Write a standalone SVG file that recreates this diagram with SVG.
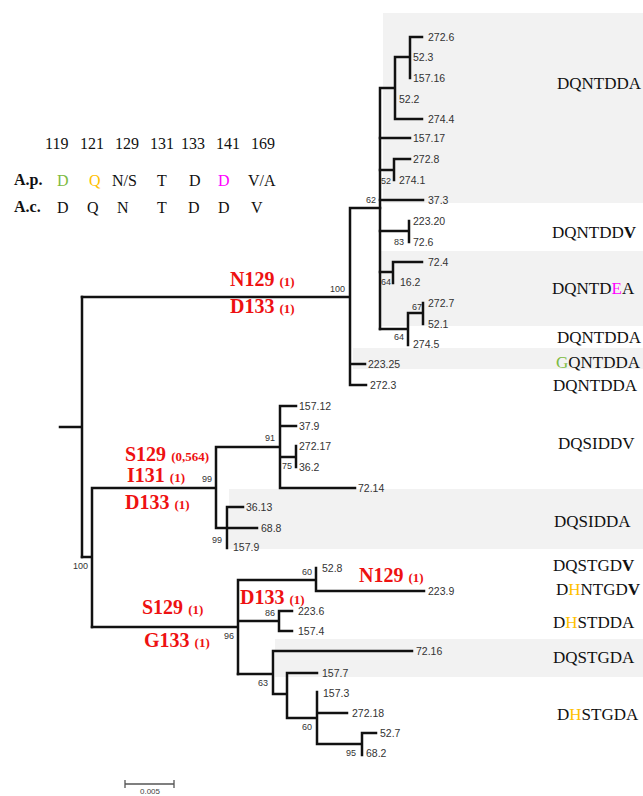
<svg xmlns="http://www.w3.org/2000/svg" width="643" height="796" viewBox="0 0 643 796">
<style>
.band{fill:#f2f2f2}
.br{fill:none;stroke:#111;stroke-width:2.5;stroke-linecap:square}
.tip{font-family:"Liberation Sans",Arial,sans-serif;font-size:10.5px;fill:#333}
.bs{font-family:"Liberation Sans",Arial,sans-serif;font-size:9px;fill:#333}
.seq{font-family:"Liberation Serif","Times New Roman",serif;font-size:17px;fill:#111}
.leg{font-family:"Liberation Serif","Times New Roman",serif;font-size:16px;fill:#111}
.legb{font-family:"Liberation Serif","Times New Roman",serif;font-size:16px;font-weight:bold;fill:#111}
.mut{font-family:"Liberation Serif","Times New Roman",serif;font-size:20px;font-weight:bold;fill:#EE1111}
.mut tspan{font-size:13px}
.g{fill:#7DBB42}
.o{fill:#FFC000}
.m{fill:#FF00FF}
.vb{font-weight:bold}
.scale{fill:none;stroke:#555;stroke-width:1.3}
.scalet{font-family:"Liberation Sans",Arial,sans-serif;font-size:8px;fill:#444}
</style>
<rect width="643" height="796" fill="#fff"/>
<g id="bands">
<rect class="band" x="383" y="13" width="260" height="190"/>
<rect class="band" x="380" y="251" width="263" height="75"/>
<rect class="band" x="353" y="348" width="290" height="21"/>
<rect class="band" x="229" y="489" width="414" height="60"/>
<rect class="band" x="275" y="639" width="368" height="38"/>
</g>
<g id="connectors" class="br">
<path d="M60 427H82M82 297V557"/>
<path d="M82 297H350M350 208V385M350 208H380M350 364H365M350 385H366"/>
<path d="M380 88V329M380 88H395M395 57V119M395 57H410M410 37V78M410 37H422M395 119H422"/>
<path d="M380 138H410M380 170H394M394 159V180M394 159H410M380 200H423"/>
<path d="M380 231H409M409 221V242M380 272H393M393 262V283M393 262H422"/>
<path d="M380 329H408M408 313V345M408 313H423M423 303V324"/>
<path d="M82 557H92M92 488V627M92 488H216M216 447V528M216 447H280M280 406V488M280 406H296M280 426H296M280 457H296M296 446V467M280 488H355M216 528H257M227 507V548M227 507H243"/>
<path d="M92 627H238M238 580V674M238 580H316M316 568V591M316 591H424M238 621H279M279 611V631M279 611H292M279 631H292"/>
<path d="M238 674H273M273 651V694M273 651H412M273 694H287M287 673V718M287 673H317M287 718H317M317 692V744M317 713H347M317 744H362M362 733V755M362 733H376"/>
</g>
<g id="tips">
<g id="t272_6"><text class="tip" x="428" y="41">272.6</text></g>
<g id="t52_3"><text class="tip" x="413" y="61">52.3</text></g>
<g id="t157_16"><text class="tip" x="413" y="82">157.16</text></g>
<g id="t52_2"><text class="tip" x="399" y="103">52.2</text></g>
<g id="t274_4"><text class="tip" x="428" y="123">274.4</text></g>
<g id="t157_17"><text class="tip" x="413" y="142">157.17</text></g>
<g id="t272_8"><text class="tip" x="413" y="163">272.8</text></g>
<g id="t274_1"><text class="tip" x="399" y="184">274.1</text></g>
<g id="t37_3"><text class="tip" x="428" y="204">37.3</text></g>
<g id="t223_20"><text class="tip" x="413" y="225">223.20</text></g>
<g id="t72_6"><text class="tip" x="413" y="246">72.6</text></g>
<g id="t72_4"><text class="tip" x="428" y="266">72.4</text></g>
<g id="t16_2"><text class="tip" x="400" y="286">16.2</text></g>
<g id="t272_7"><text class="tip" x="428" y="307">272.7</text></g>
<g id="t52_1"><text class="tip" x="428" y="328">52.1</text></g>
<g id="t274_5"><text class="tip" x="413" y="348">274.5</text></g>
<g id="t223_25"><text class="tip" x="368" y="368">223.25</text></g>
<g id="t272_3"><text class="tip" x="370" y="389">272.3</text></g>
<g id="t157_12"><text class="tip" x="299" y="410">157.12</text></g>
<g id="t37_9"><text class="tip" x="299" y="430">37.9</text></g>
<g id="t272_17"><text class="tip" x="299" y="450">272.17</text></g>
<g id="t36_2"><text class="tip" x="299" y="471">36.2</text></g>
<g id="t72_14"><text class="tip" x="358" y="492">72.14</text></g>
<g id="t36_13"><text class="tip" x="246" y="511">36.13</text></g>
<g id="t68_8"><text class="tip" x="261" y="532">68.8</text></g>
<g id="t157_9"><text class="tip" x="233" y="551">157.9</text></g>
<g id="t52_8"><text class="tip" x="322" y="572">52.8</text></g>
<g id="t223_9"><text class="tip" x="428" y="595">223.9</text></g>
<g id="t223_6"><text class="tip" x="298" y="615">223.6</text></g>
<g id="t157_4"><text class="tip" x="298" y="635">157.4</text></g>
<g id="t72_16"><text class="tip" x="416" y="655">72.16</text></g>
<g id="t157_7"><text class="tip" x="322" y="677">157.7</text></g>
<g id="t157_3"><text class="tip" x="323" y="697">157.3</text></g>
<g id="t272_18"><text class="tip" x="352" y="717">272.18</text></g>
<g id="t52_7"><text class="tip" x="380" y="737">52.7</text></g>
<g id="t68_2"><text class="tip" x="366" y="757">68.2</text></g>
</g>
<g id="support">
<g id="n52"><text class="bs" x="381" y="184">52</text></g>
<g id="n62"><text class="bs" x="366" y="203">62</text></g>
<g id="n100a"><text class="bs" x="330" y="292">100</text></g>
<g id="n83"><text class="bs" x="394" y="245">83</text></g>
<g id="n64a"><text class="bs" x="381" y="285">64</text></g>
<g id="n67"><text class="bs" x="412" y="310">67</text></g>
<g id="n64b"><text class="bs" x="394" y="340">64</text></g>
<g id="n91"><text class="bs" x="265" y="441">91</text></g>
<g id="n75"><text class="bs" x="282" y="469">75</text></g>
<g id="n99a"><text class="bs" x="202" y="482">99</text></g>
<g id="n99b"><text class="bs" x="212" y="543">99</text></g>
<g id="n100b"><text class="bs" x="73" y="569">100</text></g>
<g id="n60a"><text class="bs" x="302" y="575">60</text></g>
<g id="n86"><text class="bs" x="265" y="616">86</text></g>
<g id="n96"><text class="bs" x="224" y="639">96</text></g>
<g id="n63"><text class="bs" x="258" y="686">63</text></g>
<g id="n60b"><text class="bs" x="302" y="730">60</text></g>
<g id="n95"><text class="bs" x="346" y="756">95</text></g>
</g>
<g id="sequences">
<g id="s1"><text class="seq" x="557" y="89">DQNTDDA</text></g>
<g id="s2"><text class="seq" x="552" y="238">DQNTDD<tspan class="vb">V</tspan></text></g>
<g id="s3"><text class="seq" x="552" y="294">DQNTD<tspan class="m">E</tspan>A</text></g>
<g id="s4"><text class="seq" x="557" y="343">DQNTDDA</text></g>
<g id="s5"><text class="seq" x="556" y="368"><tspan class="g">G</tspan>QNTDDA</text></g>
<g id="s6"><text class="seq" x="553" y="391">DQNTDDA</text></g>
<g id="s7"><text class="seq" x="558" y="449">DQSIDDV</text></g>
<g id="s8"><text class="seq" x="554" y="527">DQSIDDA</text></g>
<g id="s9"><text class="seq" x="553" y="571">DQSTGD<tspan class="vb">V</tspan></text></g>
<g id="s10"><text class="seq" x="556" y="595">D<tspan class="o">H</tspan>NTGD<tspan class="vb">V</tspan></text></g>
<g id="s11"><text class="seq" x="553" y="628">D<tspan class="o">H</tspan>STDDA</text></g>
<g id="s12"><text class="seq" x="553" y="663">DQSTGDA</text></g>
<g id="s13"><text class="seq" x="557" y="720">D<tspan class="o">H</tspan>STGDA</text></g>
</g>
<g id="mutations">
<g id="m1"><text class="mut" x="230" y="286">N129 <tspan>(1)</tspan></text></g>
<g id="m2"><text class="mut" x="230" y="313">D133 <tspan>(1)</tspan></text></g>
<g id="m3"><text class="mut" x="125" y="461">S129 <tspan>(0,564)</tspan></text></g>
<g id="m4"><text class="mut" x="127" y="482">I131 <tspan>(1)</tspan></text></g>
<g id="m5"><text class="mut" x="125" y="509">D133 <tspan>(1)</tspan></text></g>
<g id="m6"><text class="mut" x="142" y="614">S129 <tspan>(1)</tspan></text></g>
<g id="m7"><text class="mut" x="144" y="647">G133 <tspan>(1)</tspan></text></g>
<g id="m8"><text class="mut" x="359" y="582">N129 <tspan>(1)</tspan></text></g>
<g id="m9"><text class="mut" x="240" y="604">D133 <tspan>(1)</tspan></text></g>
</g>
<g id="legend">
<text class="leg" x="45" y="149">119</text>
<text class="leg" x="80" y="149">121</text>
<text class="leg" x="115" y="149">129</text>
<text class="leg" x="150" y="149">131</text>
<text class="leg" x="181" y="149">133</text>
<text class="leg" x="216" y="149">141</text>
<text class="leg" x="251" y="149">169</text>
<text class="legb" x="14" y="185">A.p.</text>
<text class="leg g" x="57" y="186">D</text>
<text class="leg o" x="89" y="186">Q</text>
<text class="leg" x="112" y="186">N/S</text>
<text class="leg" x="157" y="186">T</text>
<text class="leg" x="189" y="186">D</text>
<text class="leg m" x="218" y="186">D</text>
<text class="leg" x="248" y="186">V/A</text>
<text class="legb" x="14" y="212">A.c.</text>
<text class="leg" x="57" y="213">D</text>
<text class="leg" x="87" y="213">Q</text>
<text class="leg" x="117" y="213">N</text>
<text class="leg" x="157" y="213">T</text>
<text class="leg" x="188" y="213">D</text>
<text class="leg" x="218" y="213">D</text>
<text class="leg" x="251" y="213">V</text>
</g>
<g id="scalebar">
<path class="scale" d="M125 784H174M125 780V788M174 780V788"/>
<text class="scalet" x="150" y="794" text-anchor="middle">0.005</text>
</g>
</svg>
